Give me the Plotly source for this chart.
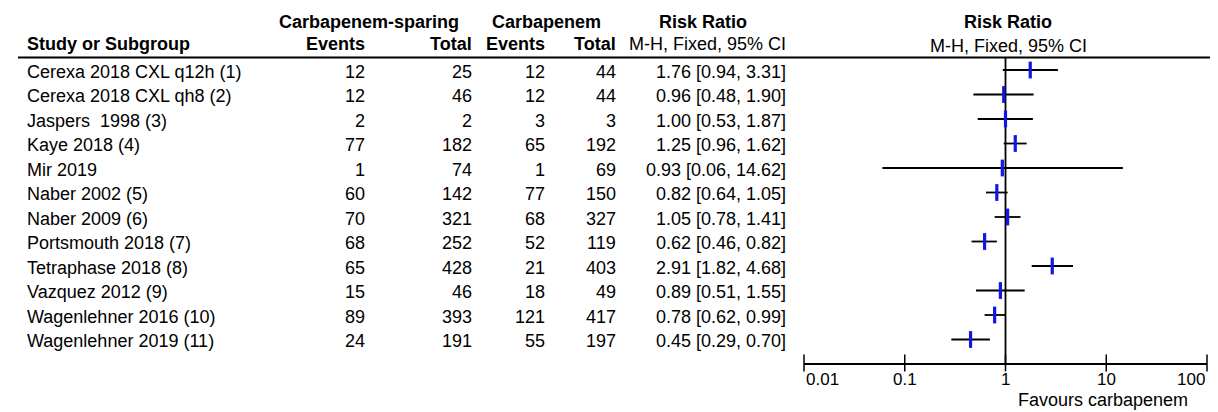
import math
import plotly.graph_objects as go

# ---------------- data ----------------
studies = ["Cerexa 2018 CXL q12h (1)", "Cerexa 2018 CXL qh8 (2)", "Jaspers\u00a0 1998 (3)",
           "Kaye 2018 (4)", "Mir 2019", "Naber 2002 (5)", "Naber 2009 (6)",
           "Portsmouth 2018 (7)", "Tetraphase 2018 (8)", "Vazquez 2012 (9)",
           "Wagenlehner 2016 (10)", "Wagenlehner 2019 (11)"]
sparing_events = [12, 12, 2, 77, 1, 60, 70, 68, 65, 15, 89, 24]
sparing_total = [25, 46, 2, 182, 74, 142, 321, 252, 428, 46, 393, 191]
carb_events = [12, 12, 3, 65, 1, 77, 68, 52, 21, 18, 121, 55]
carb_total = [44, 44, 3, 192, 69, 150, 327, 119, 403, 49, 417, 197]
rr = [1.76, 0.96, 1.00, 1.25, 0.93, 0.82, 1.05, 0.62, 2.91, 0.89, 0.78, 0.45]
ci_lo = [0.94, 0.48, 0.53, 0.96, 0.06, 0.64, 0.78, 0.46, 1.82, 0.51, 0.62, 0.29]
ci_hi = [3.31, 1.90, 1.87, 1.62, 14.62, 1.05, 1.41, 0.82, 4.68, 1.55, 0.99, 0.70]
tick_vals = [0.01, 0.1, 1, 10, 100]
tick_text = ["0.01", "0.1", "1", "10", "100"]

# ---------------- layout helpers ----------------
OFF = 8                          # page body margin of the html page
W, H = 1218 - OFF, 412 - OFF     # figure size so that it fills the window
ROW0, ROWH = 70.0, 24.5          # pixel y of first row, row spacing (window pixels)
AXIS_PX = 363.0                  # pixel y of the x-axis line (window pixels)
FONT = "Liberation Sans, Arial, sans-serif"


def py(pix):          # window pixel y -> row units
    return (pix - ROW0) / ROWH


def fx(pix):          # window pixel x -> paper x
    return (pix - OFF) / W


def fy(pix):          # window pixel y -> paper y
    return 1 - (pix - OFF) / H


Y_TOP = py(OFF)
Y_BOT = py(AXIS_PX)

fig = go.Figure()

# CI lines
xs, ys = [], []
for i, (lo, hi) in enumerate(zip(ci_lo, ci_hi)):
    xs += [lo, hi, None]
    ys += [i, i, None]
fig.add_trace(go.Scatter(x=xs, y=ys, mode="lines", line=dict(color="black", width=1.8),
                         hoverinfo="skip", showlegend=False))

# vertical line of no effect
fig.add_trace(go.Scatter(x=[1, 1], y=[py(57.5), Y_BOT], mode="lines",
                         line=dict(color="black", width=1.8), hoverinfo="skip", showlegend=False))

# point estimates
fig.add_trace(go.Scatter(x=rr, y=list(range(len(rr))), mode="markers",
                         marker=dict(symbol="line-ns", size=12,
                                     line=dict(color="#1414e6", width=3.2)),
                         showlegend=False, hoverinfo="skip"))

# axis tick marks crossing the axis line
fig.add_trace(go.Scatter(x=tick_vals, y=[Y_BOT] * len(tick_vals), mode="markers",
                         marker=dict(symbol="line-ns", size=12,
                                     line=dict(color="black", width=1.5)),
                         cliponaxis=False, showlegend=False, hoverinfo="skip"))

ann = []


def txt(x, y, t, anchor="left", bold=False, xref="paper", yref="y", size=18):
    ann.append(dict(x=x, y=y, xref=xref, yref=yref, text=("<b>%s</b>" % t) if bold else t,
                    showarrow=False, xanchor=anchor, yanchor="middle",
                    font=dict(family=FONT, size=size, color="black")))


# table rows
for i in range(len(studies)):
    y = i + 1.5 / ROWH
    txt(fx(25), y, studies[i], "left")
    txt(fx(367), y, str(sparing_events[i]), "right")
    txt(fx(474), y, str(sparing_total[i]), "right")
    txt(fx(547), y, str(carb_events[i]), "right")
    txt(fx(618), y, str(carb_total[i]), "right")
    txt(fx(788), y, "%.2f [%.2f, %.2f]" % (rr[i], ci_lo[i], ci_hi[i]), "right")

# headers
h1, h2 = py(22), py(44)
txt(fx(277), h1, "Carbapenem-sparing", "left", bold=True)
txt(fx(546), h1, "Carbapenem", "center", bold=True)
txt(fx(703), h1, "Risk Ratio", "center", bold=True)
txt(fx(25), h2, "Study or Subgroup", "left", bold=True)
txt(fx(367), h2, "Events", "right", bold=True)
txt(fx(474), h2, "Total", "right", bold=True)
txt(fx(547), h2, "Events", "right", bold=True)
txt(fx(618), h2, "Total", "right", bold=True)
txt(fx(788), h2, "M-H, Fixed, 95% CI", "right")
txt(fx(1008), py(21.5), "Risk Ratio", "center", bold=True)
txt(fx(1008), py(46), "M-H, Fixed, 95% CI", "center")

# tick labels
for v, t in zip(tick_vals, tick_text):
    anchor = "left" if v == tick_vals[0] else ("right" if v == tick_vals[-1] else "center")
    ann.append(dict(x=math.log10(v), y=fy(379), xref="x", yref="paper", text=t,
                    showarrow=False, xanchor=anchor, yanchor="middle",
                    font=dict(family=FONT, size=17, color="black")))

ann.append(dict(x=fx(1103), y=fy(400), xref="paper", yref="paper", text="Favours carbapenem",
                showarrow=False, xanchor="center", yanchor="middle",
                font=dict(family=FONT, size=18, color="black")))

shapes = [dict(type="line", xref="paper", yref="paper", x0=fx(18), x1=1,
               y0=fy(57.5), y1=fy(57.5), line=dict(color="black", width=2.2))]

fig.update_layout(
    width=W, height=H, margin=dict(l=0, r=0, t=0, b=0),
    paper_bgcolor="white", plot_bgcolor="white",
    annotations=ann, shapes=shapes,
    xaxis=dict(type="log", range=[-2, 2], domain=[fx(804), fx(1207)],
               showline=True, linecolor="black", linewidth=2, showgrid=False,
               zeroline=False, ticks="", showticklabels=False, fixedrange=True),
    yaxis=dict(range=[Y_BOT, Y_TOP], domain=[fy(AXIS_PX), 1], visible=False,
               showgrid=False, zeroline=False, fixedrange=True),
)

fig.write_html("out.html")
